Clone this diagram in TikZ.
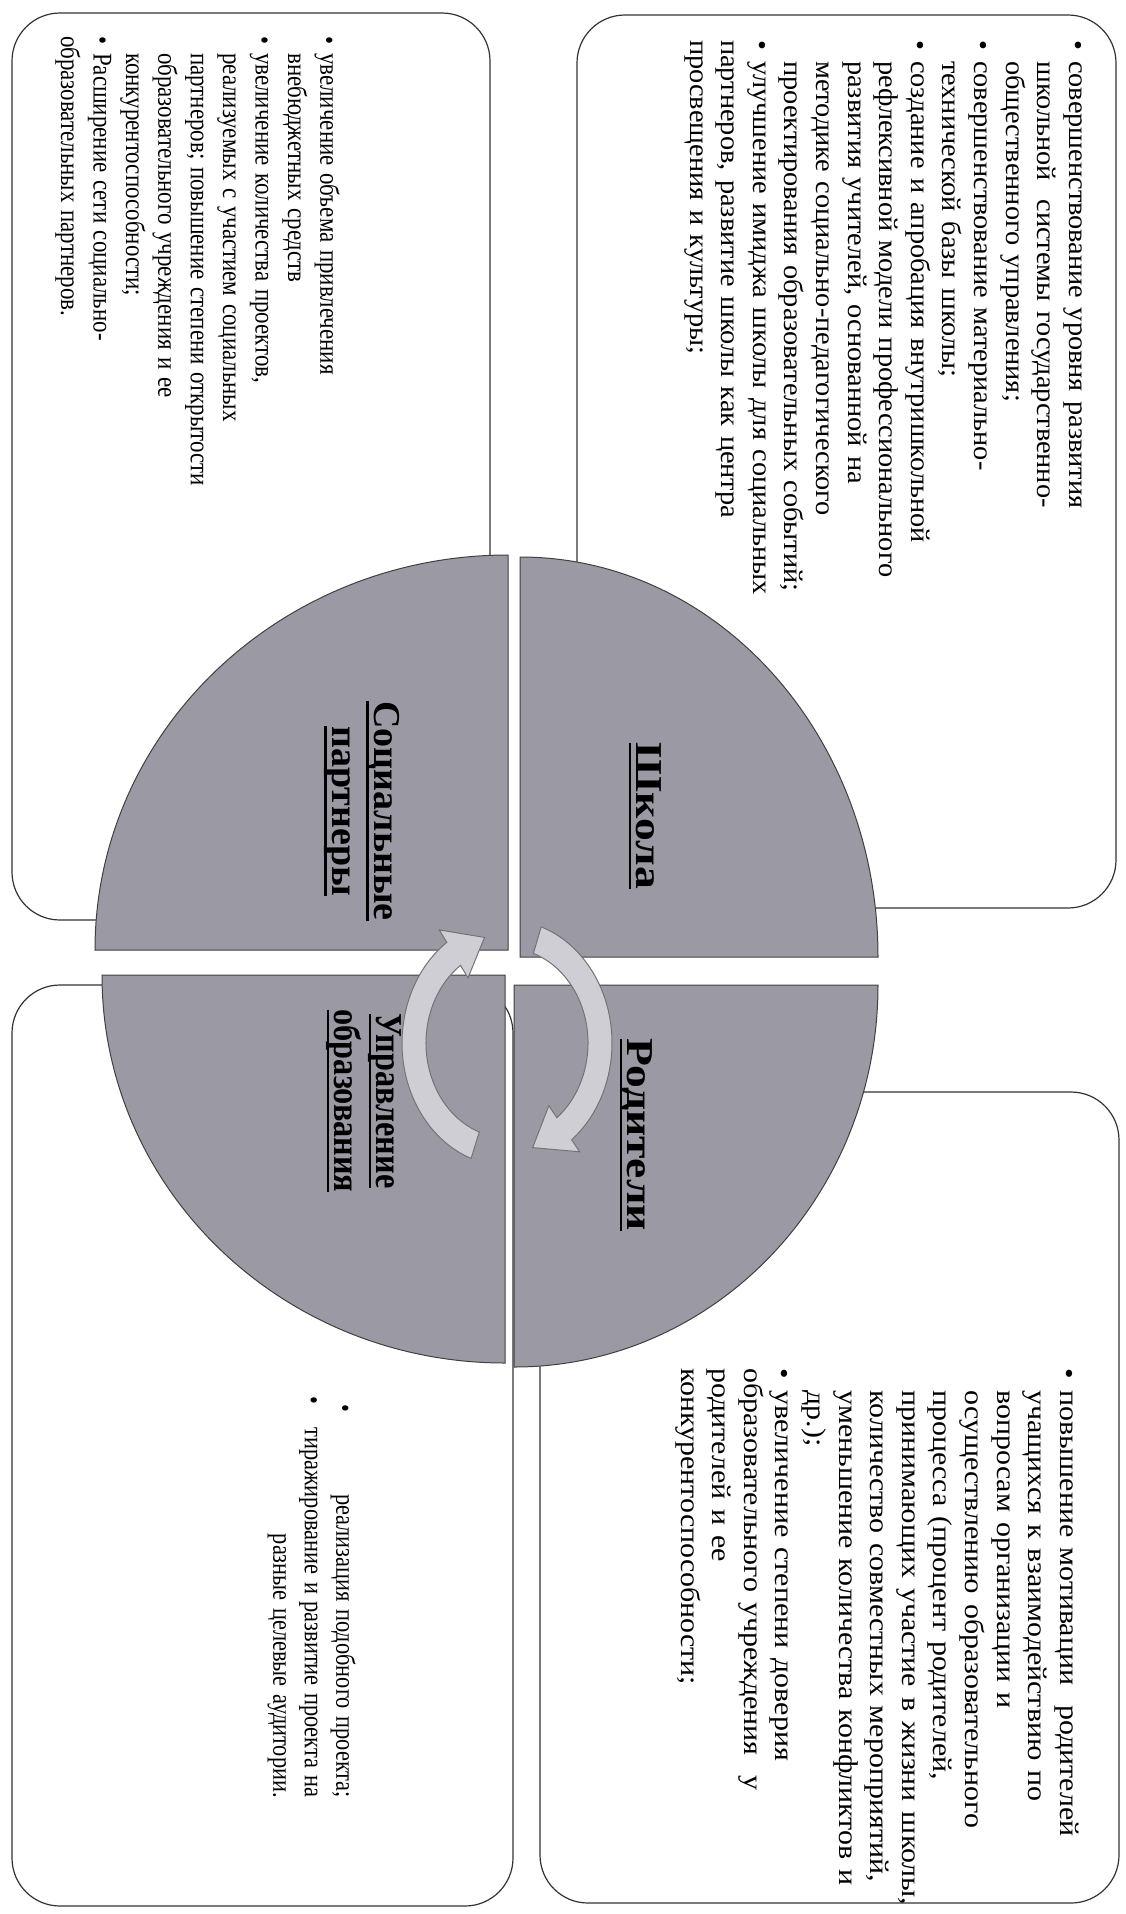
\documentclass[tikz,border=0pt]{standalone}
\usepackage{fontspec}
\setmainfont{Liberation Serif}
\definecolor{sektorgrau}{RGB}{155,154,164}
\definecolor{pfeilgrau}{RGB}{206,206,212}
% Aufzaehlungspunkt mit haengendem Einzug
\newcommand{\punkt}[1]{\par\hangindent=20pt\hangafter=1\noindent\hbox to 20pt{\textbullet\hfil}#1}
% dick unterstrichenes Wort
\newcommand{\unter}[1]{\setbox0\hbox{#1}\rlap{\rule[-8pt]{\wd0}{2.8pt}}\box0}

\begin{document}
\begin{tikzpicture}[x=1pt,y=-1pt,
    kasten/.style={draw=black!80,line width=1.2pt,fill=white,rounded corners=48pt},
    sektor/.style={draw=black!75,line width=1pt,fill=sektorgrau},
    pfeil/.style={draw=black!55,line width=1pt,fill=pfeilgrau},
    liste/.style={rotate=-90,anchor=north west,inner sep=0pt,text width=#1,
        font=\fontsize{27}{31.6}\selectfont},
    titel/.style={rotate=-90,inner sep=0pt,align=center,
        font=\fontsize{38}{42}\selectfont\bfseries}]
    % Rahmen des Bildes
    \useasboundingbox (0,0) rectangle (1125,1914);
    \fill[white] (0,0) rectangle (1125,1914);

    % Kaesten mit runden Ecken
    \draw[kasten] (577,15) rectangle (1116,908);
    \draw[kasten] (12,13) rectangle (490,920);
    \draw[kasten] (12,985) rectangle (513,1906);
    \draw[kasten] (540,1092) rectangle (1119,1903);

    % Vier Viertelkreise
    \path[sektor] (520,957) -- (520,557) arc[start angle=-90,end angle=0,x radius=358,y radius=400] -- cycle;
    \path[sektor] (508,950) -- (95,950) arc[start angle=180,end angle=270,x radius=413,y radius=395] -- cycle;
    \path[sektor] (505,975) -- (102,975) arc[start angle=180,end angle=90,x radius=403,y radius=388] -- cycle;
    \path[sektor] (514,985) -- (878,985) arc[start angle=0,end angle=90,x radius=364,y radius=382] -- cycle;

    % Kreispfeile in der Mitte
    \begin{scope}[shift={(507,1043)},yscale=1.17]
        \path[pfeil] (110:81) arc[start angle=110,end angle=235,radius=81] -- (235:68) -- (256:93)
            -- (235:118) -- (235:105) arc[start angle=235,end angle=110,radius=105] -- cycle;
        \path[pfeil] (-71:81) arc[start angle=-71,end angle=52,radius=81] -- (52:68) -- (74:93)
            -- (52:118) -- (52:105) arc[start angle=52,end angle=-71,radius=105] -- cycle;
    \end{scope}

    % Beschriftung der Viertel
    \node[titel,xscale=1.2] (schule) at (645,816) {\unter{Школа}};
    \node[titel] (partner) at (362,811) {\unter{Социальные}\\\unter{партнеры}};
    \node[titel,xscale=0.85] (verwaltung) at (364,1101) {\unter{Управление}\\\unter{образования}};
    \node[titel,xscale=1.2] (eltern) at (636,1135) {\unter{Родители}};

    % Texte in den Kaesten
    \node[liste=560pt,xscale=1.05] (schuletext) at (1101,40) {%
        \punkt{совершенствование уровня развития\newline
        школьной \ системы государственно-\newline
        общественного управления;}
        \punkt{совершенствование материально-\newline
        технической базы школы;}
        \punkt{создание и апробация внутришкольной\newline
        рефлексивной модели профессионального\newline
        развития учителей, основанной на\newline
        методике социально-педагогического\newline
        проектирования образовательных событий;}
        \punkt{улучшение имиджа школы для социальных\newline
        партнеров, развитие школы как центра\newline
        просвещения и культуры;}};

    \node[liste=560pt,xscale=0.85,font=\fontsize{27}{32.4}\selectfont] (partnertext) at (353,36) {%
        \punkt{увеличение объема привлечения\newline
        внебюджетных средств}
        \punkt{увеличение количества проектов,\newline
        реализуемых с участием социальных\newline
        партнеров; повышение степени открытости\newline
        образовательного учреждения и ее\newline
        конкурентоспособности;}
        \punkt{Расширение сети социально-\newline
        образовательных партнеров.}};

    \node[liste=520pt,xscale=1.11] (elterntext) at (1092,1368) {%
        \punkt{повышение мотивации \ родителей\newline
        учащихся к взаимодействию по\newline
        вопросам организации и\newline
        осуществлению образовательного\newline
        процесса (процент родителей,\newline
        принимающих участие в жизни школы,\newline
        количество совместных мероприятий,\newline
        уменьшение количества конфликтов и\newline
        др.);}
        \punkt{увеличение степени доверия\newline
        образовательного учреждения \ у\newline
        родителей и ее\newline
        конкурентоспособности;}};

    \node[liste=484pt,xscale=0.83] (verwaltungtext) at (356,1396) {%
        \noindent\hspace*{10pt}\textbullet\hfill реализация подобного проекта;\newline
        \textbullet\hspace{10pt}\hfill тиражирование и развитие проекта на\newline
        \hspace*{0pt}\hfill разные целевые аудитории.};
\end{tikzpicture}
\end{document}
